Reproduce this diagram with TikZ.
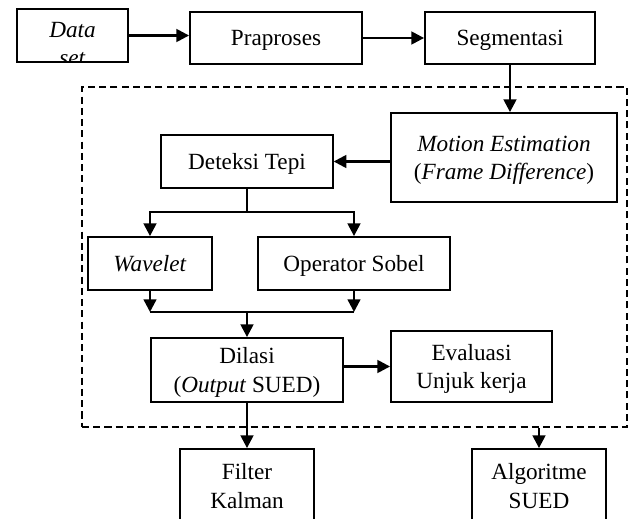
\documentclass[tikz,border=0pt]{standalone}
\usepackage{fontspec}
\setmainfont{Liberation Serif}
\usepackage{tikz}
\usetikzlibrary{arrows.meta}

\tikzset{
	block/.style={draw, line width=1.3pt, align=center, inner sep=2pt, text depth=-1pt, font=\fontsize{16.5}{20}\selectfont},
	txt/.style={align=center, inner sep=0pt, font=\fontsize{16.5}{20}\selectfont},
	wire/.style={line width=1.7pt},
	arr/.style={wire, -{Triangle[length=9pt, width=9pt]}},
	dashbox/.style={draw, line width=1.3pt, dash pattern=on 5pt off 3pt}
}

\begin{document}
\begin{tikzpicture}
				\useasboundingbox (0, 0) rectangle (15.75, 12.95);
				% Blocks:
				\node[dashbox, minimum width=13.625cm, minimum height=8.5cm](group) at (8.8625, 6.525){};
				\begin{scope}
					\clip (0.425, 11.4) rectangle (3.2, 12.725);
					\node[txt](datatext) at (1.8125, 11.85){\textit{Data}\\\textit{set}};
				\end{scope}
				\node[block, minimum width=2.775cm, minimum height=1.325cm](data) at (1.8125, 12.0625){};
				\node[block, minimum width=4.3cm, minimum height=1.3cm](prap) at (6.9, 12.0){Praproses};
				\node[block, minimum width=4.25cm, minimum height=1.3cm](seg) at (12.75, 12.0){Segmentasi};
				\node[block, minimum width=5.65cm, minimum height=2.225cm](motion) at (12.6, 9.0125){\textit{Motion Estimation}\\(\textit{Frame Difference})};
				\node[block, minimum width=4.2875cm, minimum height=1.325cm](deteksi) at (6.175, 8.9125){Deteksi Tepi};
				\node[block, minimum width=3.1cm, minimum height=1.325cm](wavelet) at (3.75, 6.3625){\textit{Wavelet}};
				\node[block, minimum width=4.8cm, minimum height=1.325cm](sobel) at (8.85, 6.3625){Operator Sobel};
				\node[block, minimum width=4.8cm, minimum height=1.6cm](dilasi) at (6.175, 3.7){Dilasi\\(\textit{Output} SUED)};
				\node[block, minimum width=4.025cm, minimum height=1.775cm](eval) at (11.7875, 3.7875){Evaluasi\\Unjuk kerja};
				\node[block, minimum width=3.35cm, minimum height=1.85cm](filter) at (6.175, 0.8){Filter\\Kalman};
				\node[block, minimum width=3.35cm, minimum height=1.85cm](algo) at (13.475, 0.8){Algoritme\\SUED};
				\coordinate (split) at (6.175, 7.65);
				\coordinate (join) at (6.175, 5.15);
				% Arrows:
				\draw[arr] (data.east) -- (data.east -| prap.west);
				\draw[arr] (prap.east) -- (seg.west);
				\draw[arr] (seg.south) -- (seg.south |- motion.north);
				\draw[arr] (motion.west |- deteksi) -- (deteksi.east);
				\draw[wire] (deteksi.south) -- (split);
				\draw[arr] (split) -| (wavelet.north);
				\draw[arr] (split) -| (sobel.north);
				\draw[arr] (wavelet.south) -- (wavelet.south |- join);
				\draw[arr] (sobel.south) -- (sobel.south |- join);
				\draw[wire] (wavelet.south |- join) -- (sobel.south |- join);
				\draw[arr] (join) -- (dilasi.north);
				\draw[arr] (dilasi.east |- eval) -- (eval.west);
				\draw[arr] (dilasi.south) -- (filter.north);
				\draw[arr] (group.south -| algo.north) -- (algo.north);
			\end{tikzpicture}
\end{document}
